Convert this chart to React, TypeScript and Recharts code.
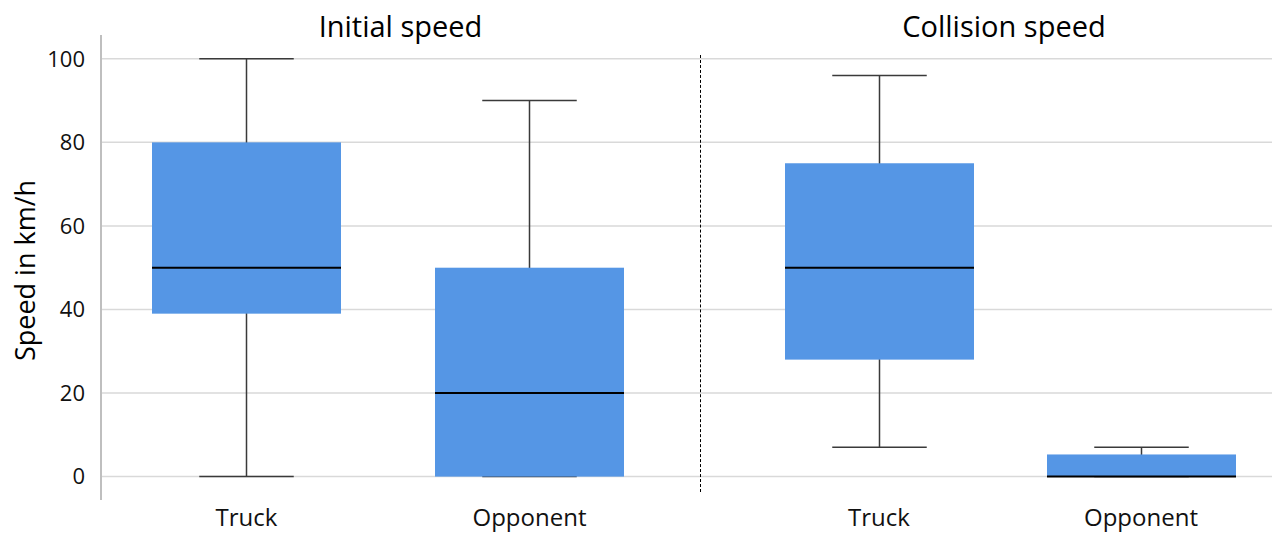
import { ComposedChart, Bar, XAxis, YAxis, CartesianGrid } from 'recharts';

// box-plot statistics (km/h)
const categories = ['Truck', 'Opponent'];

const initialMin = [0, 0];
const initialQ1 = [39, 0];
const initialMedian = [50, 20];
const initialQ3 = [80, 50];
const initialMax = [100, 90];

const collisionMin = [7, 0];
const collisionQ1 = [28, 0];
const collisionMedian = [50, 0];
const collisionQ3 = [75, 5.3];
const collisionMax = [96, 7];

const yTicks = [0, 20, 40, 60, 80, 100];

const BOX_COLOR = '#5596e5';
const FONT = '"Open Sans", "Noto Sans", sans-serif';

function buildRows(min: number[], q1: number[], median: number[], q3: number[], max: number[]) {
    return categories.map((name, i) => ({
        name,
        min: min[i],
        q1: q1[i],
        median: median[i],
        q3: q3[i],
        max: max[i],
        spread: q3[i] - q1[i],
    }));
}

const initialRows = buildRows(initialMin, initialQ1, initialMedian, initialQ3, initialMax);
const collisionRows = buildRows(collisionMin, collisionQ1, collisionMedian, collisionQ3, collisionMax);

// draws whiskers, box and median from the stacked bar geometry
function BoxShape(props: any) {
    const { x, y, width, height, payload } = props;
    const unit = height / (payload.q3 - payload.q1);
    const cx = x + width / 2;
    const yMed = y + (payload.q3 - payload.median) * unit;
    const yMax = y - (payload.max - payload.q3) * unit;
    const yMin = y + height + (payload.q1 - payload.min) * unit;
    const cap = width / 4;
    return (
        <g>
            <line x1={cx} x2={cx} y1={yMax} y2={yMin} stroke="#3a3a3a" strokeWidth={1.5} />
            <line x1={cx - cap} x2={cx + cap} y1={yMax} y2={yMax} stroke="#3a3a3a" strokeWidth={1.5} />
            <line x1={cx - cap} x2={cx + cap} y1={yMin} y2={yMin} stroke="#3a3a3a" strokeWidth={1.5} />
            <rect x={x} y={y} width={width} height={height} fill={BOX_COLOR} />
            <line x1={x} x2={x + width} y1={yMed} y2={yMed} stroke="#000" strokeWidth={2} />
        </g>
    );
}

const domain: [number, number] = [-5.6, 105.7];

function Panel({ rows, width, showAxis, padding, marginRight }: any) {
    return (
        <ComposedChart
            width={width}
            height={533}
            data={rows}
            margin={{ top: 35, right: marginRight, left: 0, bottom: 0 }}
        >
            <CartesianGrid
                vertical={false}
                horizontalValues={yTicks}
                syncWithTicks={false}
                stroke="#d9d9d9"
                strokeWidth={1.5}
            />
            <XAxis
                dataKey="name"
                axisLine={false}
                tickLine={false}
                height={33}
                tickMargin={3}
                padding={padding}
                tick={{ fill: '#111', fontSize: 24 }}
            />
            <YAxis
                hide={!showAxis}
                width={101}
                domain={domain}
                ticks={yTicks}
                allowDataOverflow
                axisLine={{ stroke: '#bfbfbf', strokeWidth: 2 }}
                tickLine={false}
                tickMargin={10}
                tick={{ fill: '#111', fontSize: 22 }}
                label={
                    showAxis
                        ? { value: 'Speed in km/h', angle: -90, position: 'center', dx: -25, dy: 3, fontSize: 27, fill: '#000' }
                        : undefined
                }
            />
            <Bar dataKey="q1" stackId="box" fill="transparent" barSize={189} isAnimationActive={false} />
            <Bar
                dataKey="spread"
                stackId="box"
                barSize={189}
                isAnimationActive={false}
                shape={(p: any) => <BoxShape {...p} />}
            />
        </ComposedChart>
    );
}

export default function App() {
    return (
        <div
            style={{
                position: 'absolute',
                left: 0,
                top: 0,
                width: 1282,
                height: 533,
                background: '#fff',
                fontFamily: FONT,
            }}
        >
            <div style={{ position: 'absolute', left: 0, top: 0 }}>
                <Panel rows={initialRows} width={700} showAxis padding={{ left: 4, right: 29 }} marginRight={0} />
            </div>
            <div style={{ position: 'absolute', left: 700, top: 0 }}>
                <Panel rows={collisionRows} width={582} showAxis={false} padding={{ left: 48, right: 0 }} marginRight={10} />
            </div>
            <div
                style={{
                    position: 'absolute',
                    left: 700,
                    top: 55,
                    height: 437,
                    borderLeft: '1px dashed #000',
                }}
            />
            <div style={{ position: 'absolute', left: 101, width: 599, top: 6, textAlign: 'center', fontSize: 29, color: '#000', lineHeight: '40px' }}>
                Initial speed
            </div>
            <div style={{ position: 'absolute', left: 700, width: 608, top: 6, textAlign: 'center', fontSize: 29, color: '#000', lineHeight: '40px' }}>
                Collision speed
            </div>
        </div>
    );
}
